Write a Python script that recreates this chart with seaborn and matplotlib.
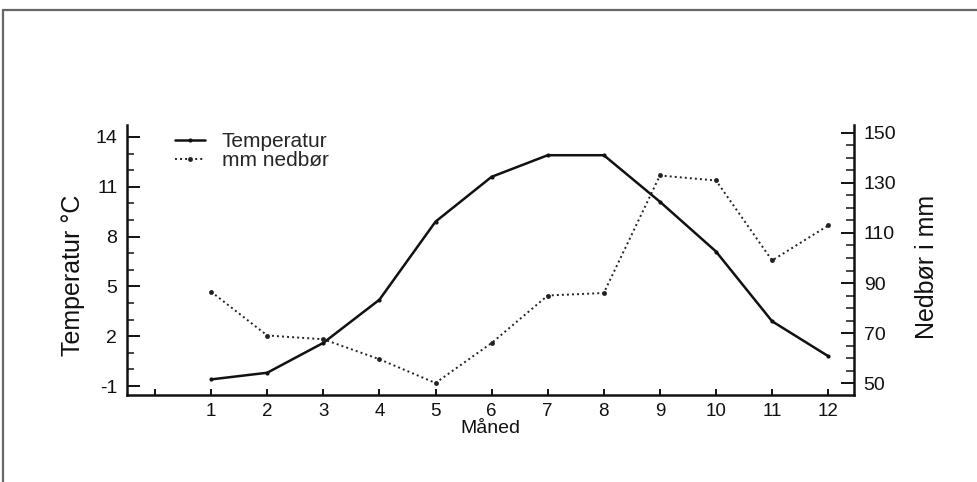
import matplotlib
matplotlib.use("Agg")
import matplotlib.pyplot as plt
from matplotlib.lines import Line2D
from matplotlib.ticker import MultipleLocator
import seaborn as sns
import pandas as pd

# ---- data ----
months = [1, 2, 3, 4, 5, 6, 7, 8, 9, 10, 11, 12]
temperature = [-0.6, -0.2, 1.6, 4.2, 8.9, 11.6, 12.9, 12.9, 10.1, 7.1, 2.9, 0.8]
precip_mm = [86.5, 69, 67.5, 59.5, 50, 66, 85, 86, 133, 131, 99, 113]
x_ticks = [0, 1, 2, 3, 4, 5, 6, 7, 8, 9, 10, 11, 12]
x_tick_labels = ["", "1", "2", "3", "4", "5", "6", "7", "8", "9", "10", "11", "12"]
left_ticks = [-1, 2, 5, 8, 11, 14]
right_ticks = [50, 70, 90, 110, 130, 150]

df = pd.DataFrame({"Måned": months, "Temperatur": temperature, "Nedbør": precip_mm})

sns.set_style("ticks")
plt.rcParams["font.family"] = ["Liberation Sans", "DejaVu Sans"]

W, H = 977, 482
fig = plt.figure(figsize=(W / 100, H / 100), dpi=100)
ax = fig.add_axes([127 / W, 1 - 395 / H, (854 - 127) / W, (395 - 125) / H])
ax2 = ax.twinx()

sns.lineplot(data=df, x="Måned", y="Temperatur", ax=ax, color="#111111",
             linewidth=1.8, marker="o", markersize=3, markeredgewidth=0,
             label="Temperatur", legend=False)
sns.lineplot(data=df, x="Måned", y="Nedbør", ax=ax2, color="#222222",
             linewidth=1.4, linestyle=(0, (1, 1.6)), marker="o", markersize=3.5,
             markeredgewidth=0, label="mm nedbør", legend=False)

ax.set_xlim(-0.5, 12.46)
ax.set_ylim(-1.54, 14.72)
ax2.set_ylim(45.2, 153.2)

ax.set_xticks(x_ticks)
ax.set_xticklabels(x_tick_labels)
ax.set_yticks(left_ticks)
ax.set_yticklabels([str(v) for v in left_ticks])
ax.yaxis.set_minor_locator(MultipleLocator(1))
ax2.set_yticks(right_ticks)
ax2.set_yticklabels([str(v) for v in right_ticks])
ax2.yaxis.set_minor_locator(MultipleLocator(5))

for a in (ax, ax2):
    for s in a.spines.values():
        s.set_linewidth(1.8)
        s.set_color("#111111")
    a.spines["top"].set_visible(False)
ax.spines["right"].set_visible(False)
ax2.spines["left"].set_visible(False)
ax2.spines["bottom"].set_visible(False)

ax.tick_params(axis="x", direction="in", length=4.5, width=1.4, pad=6,
               labelsize=13.5, colors="#111111")
ax.tick_params(axis="y", which="major", direction="in", length=9.5, width=1.4,
               pad=7, labelsize=14, colors="#111111")
ax.tick_params(axis="y", which="minor", direction="in", length=5, width=1.2)
ax2.tick_params(axis="y", which="major", direction="in", length=9.5, width=1.4,
                pad=7, labelsize=14, colors="#111111")
ax2.tick_params(axis="y", which="minor", direction="in", length=5.5, width=1.2)

ax.set_xlabel("Måned", fontsize=14, labelpad=0, color="#111111")
ax.set_ylabel("Temperatur °C", fontsize=18, color="#111111", va="center")
ax.yaxis.set_label_coords((73 - 127) / 727, (395 - 275) / 270)
ax2.set_ylabel("Nedbør i mm", fontsize=18, color="#111111", va="center", rotation=90)
ax2.yaxis.set_label_coords((927 - 127) / 727, (395 - 267) / 270)

handles = [
    Line2D([], [], color="#111111", linewidth=1.8, marker="o", markersize=3, markeredgewidth=0),
    Line2D([], [], color="#222222", linewidth=1.4, linestyle=(0, (1, 1.6)), marker="o",
           markersize=3.5, markeredgewidth=0),
]
fig.legend(handles, ["Temperatur", "mm nedbør"], loc="upper left",
           bbox_to_anchor=(175 / W, 1 - 132 / H), frameon=False, fontsize=15,
           borderpad=0, borderaxespad=0, labelspacing=0.0, handlelength=1.45,
           handletextpad=0.8)

# figure frame lines (top and left)
fig.add_artist(Line2D([3 / W, 3 / W], [0, 1 - 10 / H], color="#666666", linewidth=1.6))
fig.add_artist(Line2D([3 / W, 1], [1 - 10 / H, 1 - 10 / H], color="#666666", linewidth=1.6))

fig.savefig("out.png", dpi=100)
